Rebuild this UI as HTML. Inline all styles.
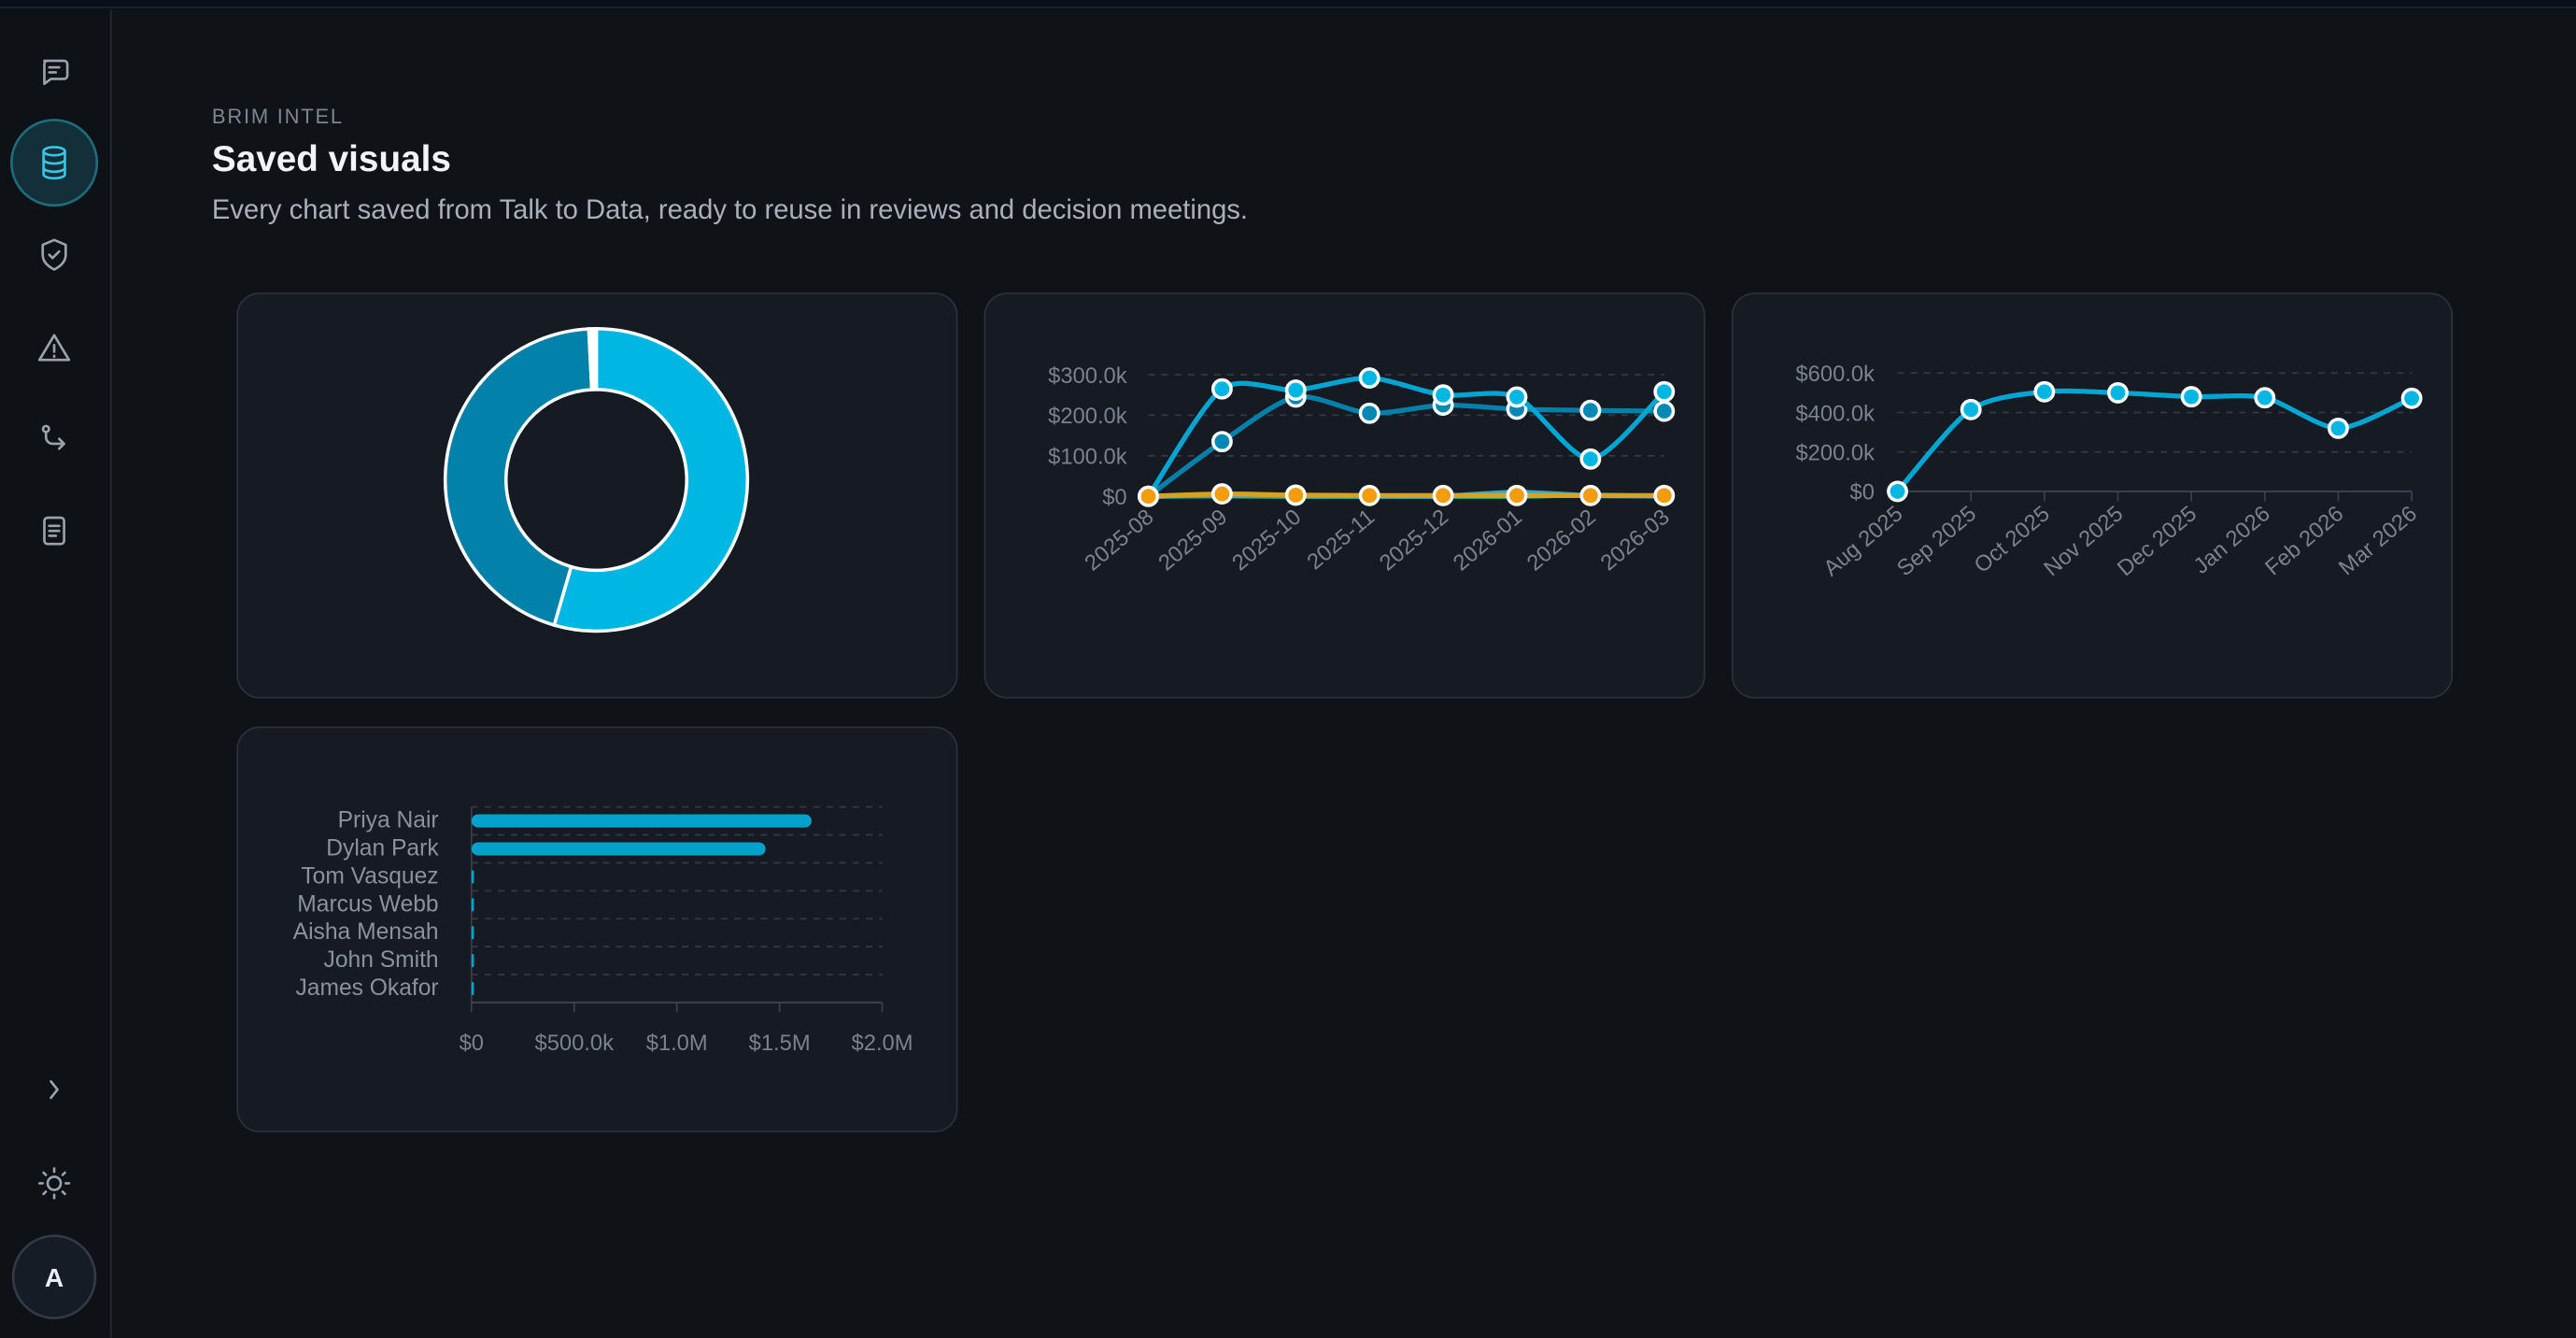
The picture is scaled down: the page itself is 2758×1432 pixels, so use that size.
<!DOCTYPE html>
<html><head><meta charset="utf-8">
<style>
html,body{margin:0;padding:0;background:#0f1318;overflow:hidden;}
body{width:2758px;height:1431px;}
#wrap{position:absolute;left:0;top:0;width:1568px;height:814px;transform:scale(1.75893);transform-origin:0 0;font-family:"Liberation Sans",sans-serif;}
.topbar{position:absolute;left:0;top:0;width:1568px;height:4px;background:#0a0f1e;border-bottom:1px solid #1b2233;}
.side{position:absolute;left:0;top:6px;width:67px;height:808px;background:#0e1216;border-right:1px solid #262c36;}
.card{position:absolute;background:#151a23;border:1px solid #2b313c;border-radius:14px;box-sizing:border-box;}
.t{fill:#7a828d;font-size:13.5px;font-family:"Liberation Sans",sans-serif;}
</style></head><body>
<div id="wrap">
<div class="topbar"></div>
<div class="side">
<svg width="67" height="808" style="position:absolute;left:0;top:-6px" fill="none" stroke="#9aa3ad" stroke-width="1.5" stroke-linecap="round" stroke-linejoin="round">
<g><path d="M27 37h12a2 2 0 0 1 2 2v7a2 2 0 0 1-2 2h-8l-4 3v-12a2 2 0 0 1 2-2z"/><path d="M30 41h6M30 44h4"/></g>
<circle cx="33" cy="99" r="26" fill="#13303a" stroke="#1e6b7a" stroke-width="1.5"/>
<g stroke="#38c6e8"><ellipse cx="33" cy="92" rx="6.5" ry="2.5"/><path d="M26.5 92v14c0 1.4 2.9 2.5 6.5 2.5s6.5-1.1 6.5-2.5V92M26.5 97c0 1.4 2.9 2.5 6.5 2.5s6.5-1.1 6.5-2.5M26.5 102c0 1.4 2.9 2.5 6.5 2.5s6.5-1.1 6.5-2.5"/></g>
<g><path d="M33 146l7 3v6c0 4-3 7-7 9-4-2-7-5-7-9v-6z"/><path d="M30 155l2 2 4-4"/></g>
<g><path d="M33 204l9 15H24z"/><path d="M33 210v4M33 216.5v.5"/></g>
<g><circle cx="28" cy="261" r="1.8"/><path d="M28 263v3a4 4 0 0 0 4 4h7M36 267l3 3-3 3"/></g>
<g><rect x="27" y="315" width="12" height="16" rx="2"/><path d="M30 320h6M30 323h6M30 326h4"/></g>
<path d="M31 658l4 5-4 5"/>
<g><circle cx="33" cy="720" r="4"/><path d="M33 711v2M33 727v2M24 720h2M40 720h2M26.5 713.5l1.4 1.4M38.1 725.1l1.4 1.4M26.5 726.5l1.4-1.4M38.1 714.9l1.4-1.4"/></g>
<circle cx="33" cy="777" r="25" fill="#161c25" stroke="#333a45"/>
<text x="33" y="783" text-anchor="middle" fill="#e8eef4" stroke="none" font-size="16" font-weight="bold" font-family="Liberation Sans">A</text>
</svg>
</div>
<div style="position:absolute;left:129px;top:64px;font-size:12.5px;letter-spacing:1px;color:#7d8590;">BRIM INTEL</div>
<div style="position:absolute;left:129px;top:84px;font-size:22px;font-weight:bold;color:#f2f4f7;">Saved visuals</div>
<div style="position:absolute;left:129px;top:118px;font-size:16.6px;color:#a9b0b9;">Every chart saved from Talk to Data, ready to reuse in reviews and decision meetings.</div>

<div class="card" style="left:144px;top:178px;width:439px;height:247px"></div>
<div class="card" style="left:599px;top:178px;width:439px;height:247px"></div>
<div class="card" style="left:1054px;top:178px;width:439px;height:247px"></div>
<div class="card" style="left:144px;top:442px;width:439px;height:247px"></div>

<svg id="chart" width="1568" height="814" style="position:absolute;left:0;top:0"></svg>
</div>
<script>
// Donut data
const donutCats=["Segment A","Segment B","Segment C"];
const donutVals=[54.5,44.7,0.8];
// Multi-line data
const mlCats=["2025-08","2025-09","2025-10","2025-11","2025-12","2026-01","2026-02","2026-03"];
const mlSeriesA=[0,265,262,292,250,245,92,258];
const mlSeriesB=[0,135,245,205,225,215,212,210];
const mlSeriesC=[0,2,1,1,1,10,2,1];
const mlSeriesD=[0,1,0,0,0,0,3,0];
const mlSeriesE=[0,6,3,2,2,2,2,2];
const mlTicks=[0,100,200,300];
const mlTickLabels=["$0","$100.0k","$200.0k","$300.0k"];
// Single line data
const lnCats=["Aug 2025","Sep 2025","Oct 2025","Nov 2025","Dec 2025","Jan 2026","Feb 2026","Mar 2026"];
const lnVals=[0,415,505,500,480,475,320,472];
const lnTicks=[0,200,400,600];
const lnTickLabels=["$0","$200.0k","$400.0k","$600.0k"];
// Bar data
const barCats=["Priya Nair","Dylan Park","Tom Vasquez","Marcus Webb","Aisha Mensah","John Smith","James Okafor"];
const barVals=[1.656,1.432,0.012,0.01,0.009,0.008,0.006];
const barTicks=[0,0.5,1,1.5,2];
const barTickLabels=["$0","$500.0k","$1.0M","$1.5M","$2.0M"];

const NS="http://www.w3.org/2000/svg";
const svg=document.getElementById('chart');
function mk(tag,attrs,parent){const e=document.createElementNS(NS,tag);for(const k in attrs)e.setAttribute(k,attrs[k]);(parent||svg).appendChild(e);return e;}
function smooth(pts){let d=`M${pts[0][0]},${pts[0][1]}`;for(let i=0;i<pts.length-1;i++){const p0=pts[i-1]||pts[i],p1=pts[i],p2=pts[i+1],p3=pts[i+2]||p2;const t=0.13;d+=` C${p1[0]+(p2[0]-p0[0])*t},${p1[1]+(p2[1]-p0[1])*t} ${p2[0]-(p3[0]-p1[0])*t},${p2[1]-(p3[1]-p1[1])*t} ${p2[0]},${p2[1]}`;}return d;}

// Donut
(function(){const cx=363,cy=292,R=92,r=55;const total=donutVals.reduce((a,b)=>a+b,0);const cols=["#00b6e3","#0281ab","#ffffff"];let a=0;
donutVals.forEach((v,i)=>{const a0=a,a1=a+v/total*2*Math.PI;a=a1;const big=(a1-a0)>Math.PI?1:0;const P=(rad,ang)=>[cx+rad*Math.sin(ang),cy-rad*Math.cos(ang)];const[o0,o1,i1,i0]=[P(R,a0),P(R,a1),P(r,a1),P(r,a0)];
const p=mk('path',{d:`M${o0}A${R},${R} 0 ${big} 1 ${o1}L${i1}A${r},${r} 0 ${big} 0 ${i0}Z`,fill:cols[i],stroke:'#fff','stroke-width':2});

});})();

// Multi-line
(function(){const x0=699,step=(1013-699)/(mlCats.length-1);const X=i=>x0+i*step;const Y=v=>302-v*74/300;
mlTicks.forEach((t,i)=>{if(t>0){const g=mk('line',{x1:699,x2:1013,y1:Y(t),y2:Y(t),stroke:'#333a46','stroke-dasharray':'4 4'});}
const tx=mk('text',{x:686,y:Y(t)+5,'text-anchor':'end',class:'t'});tx.textContent=mlTickLabels[i];});
mlCats.forEach((c,i)=>{const tx=mk('text',{x:X(i)+4,y:316,'text-anchor':'end',class:'t',transform:`rotate(-40 ${X(i)+4} 316)`});tx.textContent=c;});
const series=[[mlSeriesD,'#22b58a',false],[mlSeriesC,'#3aa7c9',false],[mlSeriesB,'#0281ab',true],[mlSeriesA,'#00a6d2',true],[mlSeriesE,'#d9a21e',true]];
const dotCol={'#0281ab':'#0288b4','#00a6d2':'#00b6e3','#d9a21e':'#f39c0f'};
series.forEach(([vals,col,dots],si)=>{const pts=vals.map((v,i)=>[X(i),Y(v)]);const p=mk('path',{d:smooth(pts),fill:'none',stroke:col,'stroke-width':3});
if(dots)pts.forEach(pt=>{const c=mk('circle',{cx:pt[0],cy:pt[1],r:5.5,fill:dotCol[col],stroke:'#fff','stroke-width':2});});});})();

// Single line
(function(){const x0=1155,step=(1468-1155)/(lnCats.length-1);const X=i=>x0+i*step;const Y=v=>299-v*72/600;
lnTicks.forEach((t,i)=>{if(t>0){const g=mk('line',{x1:1155,x2:1468,y1:Y(t),y2:Y(t),stroke:'#333a46','stroke-dasharray':'4 4'});}
const tx=mk('text',{x:1141,y:Y(t)+5,'text-anchor':'end',class:'t'});tx.textContent=lnTickLabels[i];});
const ax=mk('line',{x1:1155,x2:1468,y1:299,y2:299,stroke:'#39404b','stroke-width':1.2});
lnCats.forEach((c,i)=>{const tk=mk('line',{x1:X(i),x2:X(i),y1:299,y2:305,stroke:'#39404b'});
const tx=mk('text',{x:X(i)+4,y:314,'text-anchor':'end',class:'t',transform:`rotate(-40 ${X(i)+4} 314)`});tx.textContent=c;});
const pts=lnVals.map((v,i)=>[X(i),Y(v)]);const p=mk('path',{d:smooth(pts),fill:'none',stroke:'#00a6d2','stroke-width':3});
pts.forEach(pt=>{const c=mk('circle',{cx:pt[0],cy:pt[1],r:5.5,fill:'#00b6e3',stroke:'#fff','stroke-width':2});});})();

// Bar chart
(function(){const X=v=>287+v*250/2;const rowH=17,y0=491;
barCats.forEach((c,i)=>{const g=mk('line',{x1:287,x2:537,y1:y0+i*rowH,y2:y0+i*rowH,stroke:'#333a46','stroke-dasharray':'4 4'});});
const ya=mk('line',{x1:287,x2:287,y1:491,y2:610,stroke:'#39404b'});
const xa=mk('line',{x1:287,x2:537,y1:610,y2:610,stroke:'#39404b','stroke-width':1.2});
barTicks.forEach((t,i)=>{const tk=mk('line',{x1:X(t),x2:X(t),y1:610,y2:616,stroke:'#39404b'});
const tx=mk('text',{x:X(t),y:639,'text-anchor':'middle',class:'t'});tx.textContent=barTickLabels[i];});
barCats.forEach((c,i)=>{const cy=y0+i*rowH+8.5;const tx=mk('text',{x:267,y:cy+4,'text-anchor':'end',class:'t',style:'font-size:14px;fill:#8a929c'});tx.textContent=c;
const w=Math.max(X(barVals[i])-287,1.5);const b=mk('rect',{x:287,y:cy-4,width:w,height:8,rx:Math.min(4,w/2),fill:'#03a1cb'});});})();
</script>
</body></html>
